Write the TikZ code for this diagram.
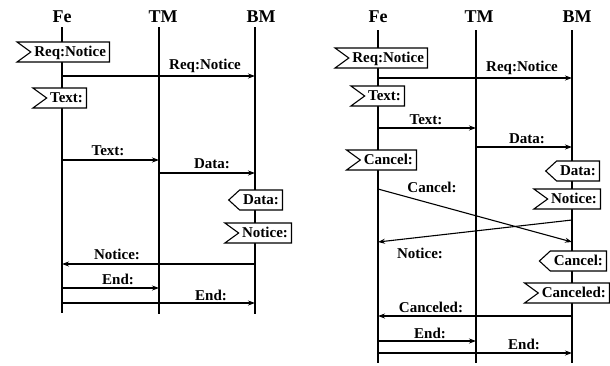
\documentclass[tikz,border=0pt]{standalone}
\usepackage{fontspec}
\setmainfont{Liberation Serif}
\usetikzlibrary{shapes.symbols,arrows.meta}
\tikzset{
  life/.style={line width=1.2pt},
  msg/.style={line width=1.1pt,-{Stealth[length=7pt,width=5pt]}},
  lbl/.style={font=\bfseries\fontsize{15}{17}\selectfont, inner sep=0pt},
  hdr/.style={font=\bfseries\fontsize{18}{20}\selectfont, inner sep=0pt},
  sig/.style={draw, line width=1.1pt, fill=white, font=\bfseries\fontsize{15}{17}\selectfont,
    text height=10.5pt, text depth=2.5pt, inner xsep=3.5pt, inner ysep=3.5pt,
    shape=signal},
  sendsig/.style={sig, signal to=nowhere, signal from=west, signal pointer angle=72},
  recvsig/.style={sig, signal to=west, signal pointer angle=85},
}
\begin{document}
\begin{tikzpicture}[x=1pt,y=-1pt]
\useasboundingbox (0,0) rectangle (610,365);
% ---------- left chart ----------
\node[hdr] (hfe1) at (62,17) {Fe};
\node[hdr] (htm1) at (163,17) {TM};
\node[hdr] (hbm1) at (261,17) {BM};
\coordinate (fe1t) at (62,27);  \coordinate (fe1b) at (62,313);
\coordinate (tm1t) at (159,27); \coordinate (tm1b) at (159,314);
\coordinate (bm1t) at (255,27); \coordinate (bm1b) at (255,314);
\draw[life] (fe1t) -- (fe1b);
\draw[life] (tm1t) -- (tm1b);
\draw[life] (bm1t) -- (bm1b);

\node[sendsig, anchor=east] (s1) at (110,52) {Req:Notice};
\draw[msg] (fe1t |- 0,76) -- (bm1t |- 0,76);
\node[lbl] (l1) at (205,66) {Req:Notice};
\node[sendsig, anchor=east] (s2) at (87,98) {Text:};
\draw[msg] (fe1t |- 0,160) -- (tm1t |- 0,160);
\node[lbl] (l2) at (108,151) {Text:};
\draw[msg] (tm1t |- 0,173) -- (bm1t |- 0,173);
\node[lbl] (l3) at (212,164) {Data:};
\node[recvsig, anchor=east] (s3) at (283,200) {Data:};
\node[sendsig, anchor=east] (s4) at (292,233) {Notice:};
\draw[msg] (bm1t |- 0,264) -- (fe1t |- 0,264);
\node[lbl] (l4) at (117,254) {Notice:};
\draw[msg] (fe1t |- 0,288) -- (tm1t |- 0,288);
\node[lbl] (l5) at (118,279) {End:};
\draw[msg] (fe1t |- 0,303) -- (bm1t |- 0,303);
\node[lbl] (l6) at (211,295) {End:};

% ---------- right chart ----------
\node[hdr] (hfe2) at (378,17) {Fe};
\node[hdr] (htm2) at (479,17) {TM};
\node[hdr] (hbm2) at (577,17) {BM};
\coordinate (fe2t) at (378,30);  \coordinate (fe2b) at (378,363);
\coordinate (tm2t) at (476,30); \coordinate (tm2b) at (476,363);
\coordinate (bm2t) at (572,30); \coordinate (bm2b) at (572,363);
\draw[life] (fe2t) -- (fe2b);
\draw[life] (tm2t) -- (tm2b);
\draw[life] (bm2t) -- (bm2b);

\node[sendsig, anchor=east] (r1) at (428,58) {Req:Notice};
\draw[msg] (fe2t |- 0,78) -- (bm2t |- 0,78);
\node[lbl] (m1) at (522,68) {Req:Notice};
\node[sendsig, anchor=east] (r2) at (405,96) {Text:};
\draw[msg] (fe2t |- 0,128) -- (tm2t |- 0,128);
\node[lbl] (m2) at (426,120) {Text:};
\draw[msg] (tm2t |- 0,147) -- (bm2t |- 0,147);
\node[lbl] (m3) at (527,139) {Data:};
\node[sendsig, anchor=east] (r3) at (417,160) {Cancel:};
\node[recvsig, anchor=east] (r4) at (600,171) {Data:};
\node[sendsig, anchor=east] (r5) at (601,199) {Notice:};
\draw[msg] (fe2t |- 0,189) -- (bm2t |- 0,242);
\node[lbl] (m4) at (432,187) {Cancel:};
\draw[msg] (bm2t |- 0,220) -- (fe2t |- 0,242);
\node[lbl] (m5) at (420,253) {Notice:};
\node[recvsig, anchor=east] (r6) at (607,261) {Cancel:};
\node[sendsig, anchor=east] (r7) at (610,293) {Canceled:};
\draw[msg] (bm2t |- 0,316) -- (fe2t |- 0,316);
\node[lbl] (m6) at (431,307) {Canceled:};
\draw[msg] (fe2t |- 0,341) -- (tm2t |- 0,341);
\node[lbl] (m7) at (430,333) {End:};
\draw[msg] (fe2t |- 0,353) -- (bm2t |- 0,353);
\node[lbl] (m8) at (524,344) {End:};
\end{tikzpicture}
\end{document}
